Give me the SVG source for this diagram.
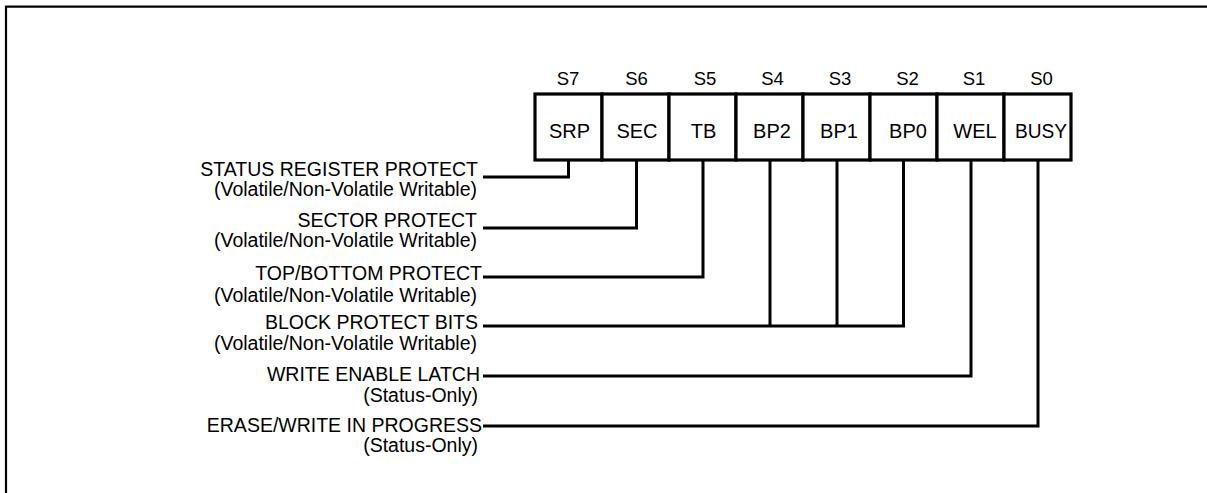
<svg xmlns="http://www.w3.org/2000/svg" width="1207" height="493" viewBox="0 0 1207 493">
<style>
.frame{fill:none;stroke:#000;stroke-width:2.2}
.cell{fill:#fff;stroke:#000;stroke-width:3.2}
.bit{font-family:"Liberation Sans",Arial,sans-serif;font-size:18.5px;fill:#000;text-anchor:middle}
.ctext{font-family:"Liberation Sans",Arial,sans-serif;font-size:20px;fill:#000;text-anchor:middle}
.lbl{font-family:"Liberation Sans",Arial,sans-serif;font-size:19.5px;fill:#000;text-anchor:end}
.wire{fill:none;stroke:#000;stroke-width:3;stroke-linejoin:miter}
</style>
<rect width="1207" height="493" fill="#fff"/>
<path class="frame" d="M6,493 V6.7 H1207"/>

<g id="connectors">
<path class="wire" d="M483,177 H568.5 V160"/>
<path class="wire" d="M483,228 H636.5 V160"/>
<path class="wire" d="M483,277 H703 V160"/>
<path class="wire" d="M483,326 H903.5 V160"/>
<path class="wire" d="M770,326 V160"/>
<path class="wire" d="M837,326 V160"/>
<path class="wire" d="M483,376 H971 V160"/>
<path class="wire" d="M483,426 H1038 V160"/>
</g>

<g id="bit-S7"><rect class="cell" x="535" y="94" width="67" height="66"/><text class="bit" x="568" y="84.5">S7</text><text class="ctext" x="569.5" y="138">SRP</text></g>
<g id="bit-S6"><rect class="cell" x="602" y="94" width="67" height="66"/><text class="bit" x="636.5" y="84.5">S6</text><text class="ctext" x="637" y="138">SEC</text></g>
<g id="bit-S5"><rect class="cell" x="669" y="94" width="67" height="66"/><text class="bit" x="705" y="84.5">S5</text><text class="ctext" x="703.5" y="138">TB</text></g>
<g id="bit-S4"><rect class="cell" x="736" y="94" width="67" height="66"/><text class="bit" x="772.5" y="84.5">S4</text><text class="ctext" x="772" y="138">BP2</text></g>
<g id="bit-S3"><rect class="cell" x="803" y="94" width="67" height="66"/><text class="bit" x="840" y="84.5">S3</text><text class="ctext" x="839" y="138">BP1</text></g>
<g id="bit-S2"><rect class="cell" x="870" y="94" width="67" height="66"/><text class="bit" x="907.5" y="84.5">S2</text><text class="ctext" x="908" y="138">BP0</text></g>
<g id="bit-S1"><rect class="cell" x="937" y="94" width="67" height="66"/><text class="bit" x="974" y="84.5">S1</text><text class="ctext" x="975" y="138">WEL</text></g>
<g id="bit-S0"><rect class="cell" x="1004" y="94" width="67" height="66"/><text class="bit" x="1041.5" y="84.5">S0</text><text class="ctext" x="1041" y="138" textLength="52" lengthAdjust="spacingAndGlyphs">BUSY</text></g>

<g id="label-srp"><text class="lbl" x="478" y="176">STATUS REGISTER PROTECT</text><text class="lbl" x="477" y="196">(Volatile/Non-Volatile Writable)</text></g>
<g id="label-sec"><text class="lbl" x="477" y="227">SECTOR PROTECT</text><text class="lbl" x="477" y="247">(Volatile/Non-Volatile Writable)</text></g>
<g id="label-tb"><text class="lbl" x="482" y="280">TOP/BOTTOM PROTECT</text><text class="lbl" x="477" y="302">(Volatile/Non-Volatile Writable)</text></g>
<g id="label-bp"><text class="lbl" x="478" y="329">BLOCK PROTECT BITS</text><text class="lbl" x="477" y="349.5">(Volatile/Non-Volatile Writable)</text></g>
<g id="label-wel"><text class="lbl" x="480" y="381">WRITE ENABLE LATCH</text><text class="lbl" x="478" y="401.5">(Status-Only)</text></g>
<g id="label-busy"><text class="lbl" x="482" y="431.5">ERASE/WRITE IN PROGRESS</text><text class="lbl" x="478" y="452">(Status-Only)</text></g>
</svg>
